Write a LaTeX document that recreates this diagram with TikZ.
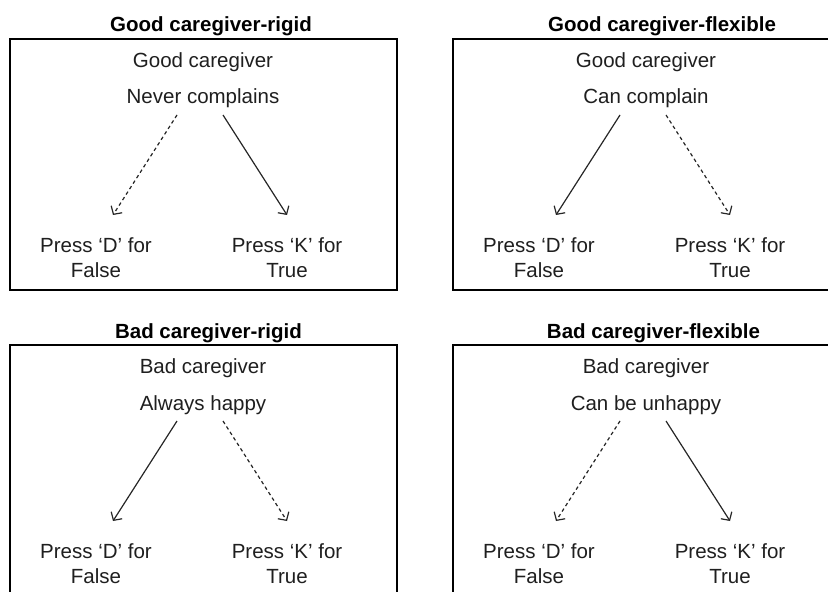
\documentclass[tikz,border=0pt]{standalone}
\usepackage{fontspec}
\setmainfont{Liberation Sans}
\usetikzlibrary{arrows.meta}
\tikzset{
  lbl/.style={anchor=base, inner sep=0pt, text=black!88, font=\fontsize{20.5bp}{25bp}\selectfont},
  ttl/.style={anchor=base, inner sep=0pt, text=black, font=\fontsize{20.5bp}{25bp}\selectfont\bfseries},
  frame/.style={draw=black, line width=2bp},
  link/.style={draw=black!85, line width=1.2bp, -{Straight Barb[length=6bp,width=13bp]}},
  dlink/.style={link, dash pattern=on 3.5bp off 3bp},
}
% #1 prefix, #2 title x, #3 title, #4 label1, #5 label2, #6 left style, #7 right style
\newcommand\cgpanel[7]{%
  \node[ttl] (#1t) at (#2,32) {#3};
  \draw[frame] (10,39) rectangle (397,290);
  \node[lbl] (#1a) at (203,67.5) {#4};
  \node[lbl] (#1b) at (203,104) {#5};
  \coordinate (#1ls) at (177,115);
  \coordinate (#1le) at (113,215);
  \coordinate (#1rs) at (223,115);
  \coordinate (#1re) at (287,215);
  \node[lbl] (#1p) at (96,252) {Press ‘D’ for};
  \node[lbl] (#1f) at (96,277) {False};
  \node[lbl] (#1q) at (287,252) {Press ‘K’ for};
  \node[lbl] (#1r) at (287,277) {True};
  \draw[#6] (#1ls) -- (#1le);
  \draw[#7] (#1rs) -- (#1re);
}
\begin{document}
\begin{tikzpicture}[x=1bp, y=-1bp]
  \useasboundingbox (0,0) rectangle (828,592);
  \clip (0,0) rectangle (828,592);
  \fill[white] (0,0) rectangle (828,592);
  \begin{scope}
    \cgpanel{gr}{211}{Good caregiver-rigid}{Good caregiver}{Never complains}{dlink}{link}
  \end{scope}
  \begin{scope}[shift={(443,0)}]
    \cgpanel{gf}{219}{Good caregiver-flexible}{Good caregiver}{Can complain}{link}{dlink}
  \end{scope}
  \begin{scope}[shift={(0,306)}]
    \cgpanel{br}{208.5}{Bad caregiver-rigid}{Bad caregiver}{Always happy}{link}{dlink}
  \end{scope}
  \begin{scope}[shift={(443,306)}]
    \cgpanel{bf}{210.5}{Bad caregiver-flexible}{Bad caregiver}{Can be unhappy}{dlink}{link}
  \end{scope}
\end{tikzpicture}
\end{document}
